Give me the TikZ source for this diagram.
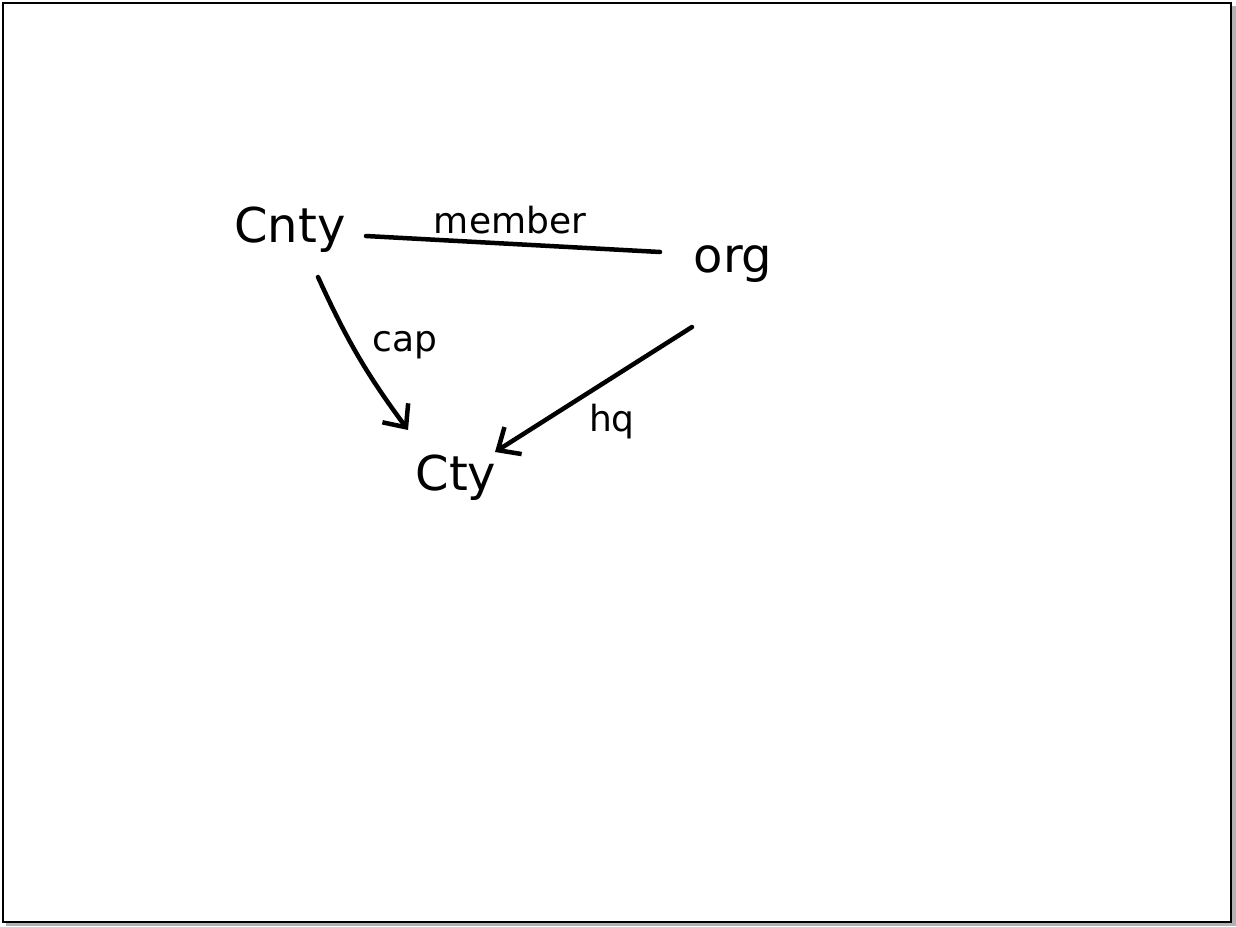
\documentclass[tikz,border=0pt]{standalone}
\usepackage{fontspec}
\setmainfont{DejaVu Sans}
\usetikzlibrary{positioning, calc, arrows.meta}

\tikzset{
    ent/.style={font=\fontsize{48}{52}\selectfont, inner sep=2pt},
    rel/.style={font=\fontsize{36}{40}\selectfont, inner sep=1pt},
    ink/.style={line width=4.5pt, line cap=round, line join=round},
    inkarrow/.style={ink, -{Straight Barb[length=18pt, width=32pt, line width=4.5pt]}}
}

\begin{document}
\begin{tikzpicture}[x=1pt, y=-1pt]

        % ===================================================
        % Page frame
        % ===================================================
        \useasboundingbox (0,0) rectangle (1236,926);
        \fill[gray!60] (6,6) rectangle (1236,926);
        \fill[white] (3,3) rectangle (1231,922);
        \draw[line width=2pt] (3,3) rectangle (1231,922);

        % ===================================================
        % Entities
        % ===================================================
        \node[ent] (cnty) at (290,230) {Cnty};
        \node[ent] (org) at (733,264) {org};
        \node[ent] (cty) at (456,478) {Cty};

        % ===================================================
        % Relationships
        % ===================================================
        % member (no direction)
        \draw[ink] ($(cnty)+(76,6)$) coordinate (m1)
            -- ($(org)+(-73,-12)$) coordinate (m2);
        \node[rel] (member) at (510,220) {member};

        % cap: Cnty -> Cty
        \draw[inkarrow] ($(cnty)+(28,47)$) coordinate (c1)
            to[bend right=6] ($(cty)+(-48,-48)$);
        \node[rel] (cap) at (405,345) {cap};

        % hq: org -> Cty
        \draw[inkarrow] ($(org)+(-41,63)$) coordinate (h1)
            -- ($(cty)+(39,-26)$);
        \node[rel] (hq) at (612,422) {hq};

    \end{tikzpicture}
\end{document}
